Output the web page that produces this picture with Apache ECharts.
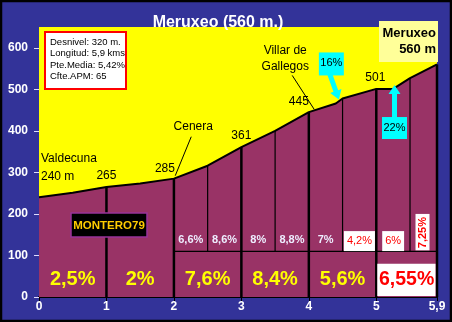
<!DOCTYPE html>
<html><head><meta charset="utf-8">
<script src="https://cdn.jsdelivr.net/npm/echarts@6/dist/echarts.min.js"></script>
<style>html,body{margin:0;padding:0;background:#333399}#c{width:452px;height:322px}</style>
</head><body><div id="c"></div>
<script>
// ---- data ----
const kmTicks = [0, 1, 2, 3, 4, 5, 5.9];
const elevTicks = [0, 100, 200, 300, 400, 500, 600];
const profileKm   = [0, 0.5, 1, 1.5, 2, 2.5, 3, 3.5, 4, 4.4, 4.5, 5, 5.25, 5.5, 5.9];
const profileElev = [240, 251, 265, 273, 285, 316, 361, 400, 445, 466, 478, 501, 501, 527, 560];
const kmSplits = [1, 2, 3, 4, 5, 5.9];
const halfSplits = [2.5, 3.5, 4.5, 5.5];
const subBase = 110;
const kmStarts = [0, 1, 2, 3, 4, 5];
const kmPct = ['2,5%', '2%', '7,6%', '8,4%', '5,6%', '6,55%'];
const halfStarts = [2, 2.5, 3, 3.5, 4, 4.5, 5, 5.5];
const halfPct = ['6,6%', '8,6%', '8%', '8,8%', '7%', '4,2%', '6%', '7,25%'];
const placeKm = [0, 1, 2, 3, 4, 5];
const placeText = ['Valdecuna\n240 m', '265', '285', '361', '445', '501'];
const infoLines = ['Desnivel: 320 m.', 'Longitud: 5,9 kms', 'Pte.Media: 5,42%', 'Cfte.APM: 65'];
const titleText = 'Meruxeo (560 m.)';
const summitText = 'Meruxeo\n560 m';
const author = 'MONTERO79';
const maxPct = ['16%', '22%'];
const maxPctKm = [4.46, 5.27];

function elevAt(k) {
  for (let i = 0; i < profileKm.length - 1; i++) {
    if (k >= profileKm[i] && k <= profileKm[i + 1]) {
      const t = (k - profileKm[i]) / (profileKm[i + 1] - profileKm[i]);
      return profileElev[i] + t * (profileElev[i + 1] - profileElev[i]);
    }
  }
  return profileElev[profileElev.length - 1];
}
const FONT = 'Liberation Sans, Arial, sans-serif';
const chart = echarts.init(document.getElementById('c'), null, {renderer: 'canvas'});

const option = {
  backgroundColor: '#333399',
  animation: false,
  title: {
    text: titleText, left: 213, top: 10, textAlign: 'center',
    textStyle: {color: '#fff', fontSize: 16, fontWeight: 'bold', fontFamily: FONT,
      textShadowColor: '#000', textShadowOffsetX: 1, textShadowOffsetY: 1, textShadowBlur: 0}
  },
  grid: {left: 39, right: 15, top: 27, bottom: 25, show: true, backgroundColor: '#FFFF00', borderWidth: 0},
  xAxis: {
    type: 'value', min: 0, max: 5.9, splitLine: {show: false},
    axisLine: {show: true, onZero: false, lineStyle: {color: '#000', width: 2}},
    axisTick: {show: true, customValues: kmTicks, length: 4, lineStyle: {color: '#000'}},
    axisLabel: {customValues: kmTicks, color: '#fff', fontWeight: 'bold', fontSize: 12, fontFamily: FONT, margin: 4,
      formatter: v => String(v).replace('.', ',')}
  },
  yAxis: {
    type: 'value', min: 0, max: 650, splitLine: {show: false},
    axisLine: {show: false},
    axisTick: {show: true, customValues: elevTicks, length: 5, lineStyle: {color: '#ddddff'}},
    axisLabel: {customValues: elevTicks, color: '#fff', fontWeight: 'bold', fontSize: 12, fontFamily: FONT, margin: 11}
  },
  series: [
    {
      type: 'line', data: profileKm.map((k, i) => [k, profileElev[i]]), symbol: 'none',
      lineStyle: {color: '#000', width: 2}, areaStyle: {color: '#993366', opacity: 1}, z: 2
    },
    {
      type: 'custom', z: 3, data: kmSplits.map(k => [k, elevAt(k)]),
      renderItem: (p, api) => {
        const a = api.coord([api.value(0), 0]), b = api.coord([api.value(0), api.value(1)]);
        return {type: 'line', shape: {x1: a[0], y1: a[1], x2: b[0], y2: b[1]}, style: {stroke: '#000', lineWidth: 2.5}};
      }
    },
    {
      type: 'custom', z: 3, data: halfSplits.map(k => [k, elevAt(k)]),
      renderItem: (p, api) => {
        const a = api.coord([api.value(0), subBase]), b = api.coord([api.value(0), api.value(1)]);
        return {type: 'line', shape: {x1: a[0], y1: a[1], x2: b[0], y2: b[1]}, style: {stroke: '#000', lineWidth: 1.2}};
      }
    },
    {
      type: 'custom', z: 3, data: [[2, subBase, 5.9]],
      renderItem: (p, api) => {
        const a = api.coord([api.value(0), api.value(1)]), b = api.coord([api.value(2), api.value(1)]);
        return {type: 'line', shape: {x1: a[0], y1: a[1], x2: b[0], y2: b[1]}, style: {stroke: '#000', lineWidth: 1.2}};
      }
    },
    // big percentages per km
    {
      type: 'custom', z: 5, data: kmStarts.map((k, i) => [k, Math.min(k + 1, 5.9)]),
      renderItem: (p, api) => {
        const x0 = api.coord([api.value(0), 0]), x1 = api.coord([api.value(1), 80]);
        const last = p.dataIndex === kmStarts.length - 1;
        const cx = (x0[0] + x1[0]) / 2, cy = api.coord([0, 42])[1];
        const children = [];
        if (last) children.push({type: 'rect', shape: {x: x0[0] + 1, y: x1[1], width: x1[0] - x0[0] - 2.5, height: x0[1] - x1[1] - 1}, style: {fill: '#fff'}});
        children.push({type: 'text', style: {text: kmPct[p.dataIndex], x: cx, y: cy, align: 'center', verticalAlign: 'middle',
          fill: last ? '#ff0000' : '#ffff00', font: 'bold ' + (last ? 19.5 : 20) + 'px ' + FONT}});
        return {type: 'group', children};
      }
    },
    // half-km percentages
    {
      type: 'custom', z: 5, data: halfStarts.map((k, i) => [k, Math.min(k + 0.5, 5.9)]),
      renderItem: (p, api) => {
        const i = p.dataIndex;
        const a = api.coord([api.value(0), subBase]), b = api.coord([api.value(1), subBase]);
        const cx = (a[0] + b[0]) / 2, cy = api.coord([0, 137])[1];
        const txt = halfPct[i];
        if (i < 5) {
          return {type: 'text', style: {text: txt, x: cx, y: cy, align: 'center', verticalAlign: 'middle', fill: '#eeeeff', font: 'bold 11px ' + FONT}};
        }
        if (i === 7) {
          const top = api.coord([0, 200])[1];
          return {type: 'group', children: [
            {type: 'rect', shape: {x: cx - 8, y: top, width: 14, height: a[1] - top - 1}, style: {fill: '#fff'}},
            {type: 'text', x: cx - 1, y: (top + a[1]) / 2, rotation: Math.PI / 2,
              style: {text: txt, x: 0, y: 0, align: 'center', verticalAlign: 'middle', fill: '#ff0000', font: 'bold 11px ' + FONT}}
          ]};
        }
        return {type: 'text', style: {text: txt, x: cx, y: cy + 1, align: 'center', verticalAlign: 'middle', fill: '#ff0000', font: '11px ' + FONT,
          backgroundColor: '#fff', padding: [4, 3, 5, 3]}};
      }
    }
  ]
};
chart.setOption(option);

function px(k, e) { return chart.convertToPixel({gridIndex: 0}, [k, e]); }
const g = [];
// outer border
g.push({type: 'rect', shape: {x: 1, y: 1, width: 450, height: 320}, style: {fill: 'none', stroke: '#000', lineWidth: 2.5}, z: 100});
// info box
g.push({type: 'rect', shape: {x: 45, y: 32, width: 81, height: 57}, style: {fill: '#fff', stroke: '#ff0000', lineWidth: 2}, z: 50});
infoLines.forEach((t, i) => g.push({type: 'text', z: 51, style: {text: t, x: 50, y: 42 + i * 11.6, verticalAlign: 'middle', fill: '#000', font: '9.5px ' + FONT}}));
// summit box
g.push({type: 'rect', shape: {x: 379, y: 21, width: 59, height: 41}, style: {fill: '#FFFF99'}, z: 50});
g.push({type: 'text', z: 51, style: {text: summitText, x: 436, y: 41, align: 'right', verticalAlign: 'middle', lineHeight: 16, fill: '#000', font: 'bold 13px ' + FONT}});
// author box
g.push({type: 'rect', shape: {x: 71, y: 213, width: 76, height: 24}, style: {fill: '#000', stroke: '#993399', lineWidth: 1.5}, z: 50});
g.push({type: 'text', z: 51, style: {text: author, x: 109, y: 225.5, align: 'center', verticalAlign: 'middle', fill: '#FFCC00', font: 'bold 11.5px ' + FONT}});
// place labels
const offs = [[2, -30], [0, -11], [-9, -10], [0, -11], [-10, -10], [-1, -11]];
placeKm.forEach((k, i) => {
  const p = px(k, elevAt(k));
  const first = i === 0;
  g.push({type: 'text', z: 40, style: {text: placeText[i], x: p[0] + offs[i][0], y: p[1] + offs[i][1], align: first ? 'left' : 'center',
    verticalAlign: 'middle', lineHeight: 18, fill: '#000', font: '12px ' + FONT}});
});
// Cenera
{
  const p = px(1.99, elevAt(1.99));
  g.push({type: 'text', z: 40, style: {text: 'Cenera', x: p[0] + 20, y: p[1] - 52, align: 'center', verticalAlign: 'middle', fill: '#000', font: '12px ' + FONT}});
  g.push({type: 'line', z: 40, shape: {x1: p[0] + 18, y1: p[1] - 42, x2: p[0] + 2, y2: p[1] - 3}, style: {stroke: '#000', lineWidth: 1}});
}
// Villar de Gallegos
{
  const p = px(4.08, elevAt(4.08));
  g.push({type: 'text', z: 40, style: {text: 'Villar de\nGallegos', x: p[0] - 29, y: p[1] - 52, align: 'center', verticalAlign: 'middle', lineHeight: 16, fill: '#000', font: '12px ' + FONT}});
  g.push({type: 'line', z: 40, shape: {x1: p[0] - 22, y1: p[1] - 35, x2: p[0], y2: p[1] - 1}, style: {stroke: '#000', lineWidth: 1}});
}
// max gradient callouts
function arrow(x1, y1, x2, y2) {
  const dx = x2 - x1, dy = y2 - y1, L = Math.hypot(dx, dy), ux = dx / L, uy = dy / L, nx = -uy, ny = ux;
  const hl = 9, sw = 2.5, hw = 6;
  const bx = x2 - ux * hl, by = y2 - uy * hl;
  return {type: 'polygon', z: 45, shape: {points: [
    [x1 + nx * sw, y1 + ny * sw], [bx + nx * sw, by + ny * sw], [bx + nx * hw, by + ny * hw], [x2, y2],
    [bx - nx * hw, by - ny * hw], [bx - nx * sw, by - ny * sw], [x1 - nx * sw, y1 - ny * sw]]}, style: {fill: '#00FFFF'}};
}
{
  const p = px(maxPctKm[0], elevAt(maxPctKm[0]));
  g.push({type: 'rect', z: 46, shape: {x: p[0] - 21, y: p[1] - 48, width: 25, height: 23}, style: {fill: '#00FFFF'}});
  g.push({type: 'text', z: 47, style: {text: maxPct[0], x: p[0] - 8.5, y: p[1] - 37, align: 'center', verticalAlign: 'middle', fill: '#000', font: '11px ' + FONT}});
  g.push(arrow(p[0] - 10, p[1] - 26, p[0] - 1, p[1] - 1));
  const q = px(maxPctKm[1], elevAt(maxPctKm[1]));
  g.push({type: 'rect', z: 46, shape: {x: q[0] - 12.5, y: q[1] + 29, width: 25, height: 22}, style: {fill: '#00FFFF'}});
  g.push({type: 'text', z: 47, style: {text: maxPct[1], x: q[0], y: q[1] + 40, align: 'center', verticalAlign: 'middle', fill: '#000', font: '11px ' + FONT}});
  g.push(arrow(q[0], q[1] + 30, q[0], q[1] - 3));
}
chart.setOption({graphic: g});
</script></body></html>
